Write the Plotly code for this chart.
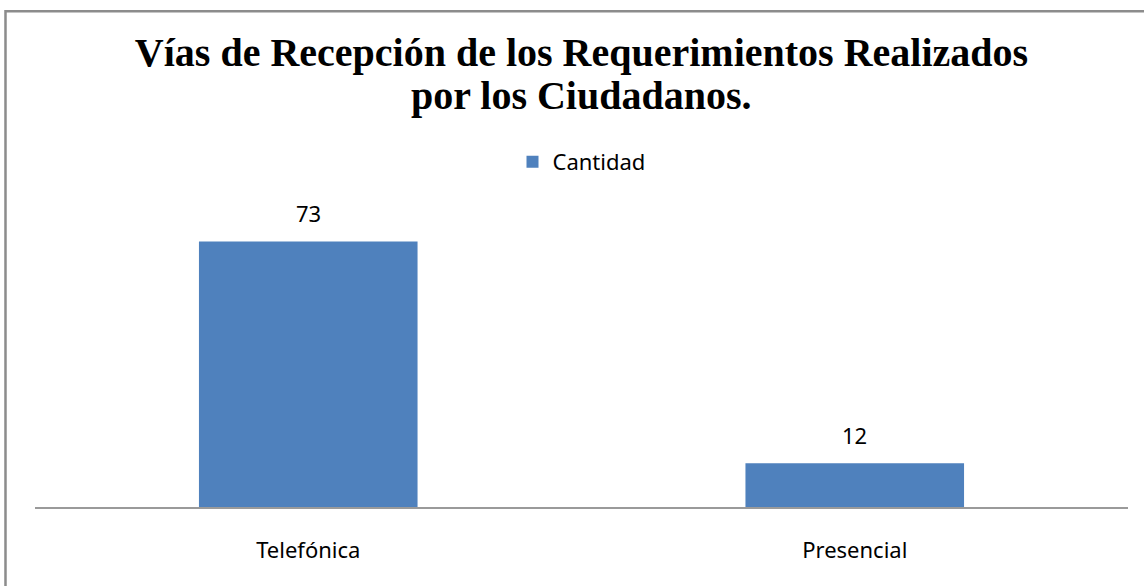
import plotly.graph_objects as go

categorias = ["Telefónica", "Presencial"]
cantidad = [73, 12]
serie = "Cantidad"
titulo_1 = "Vías de Recepción de los Requerimientos Realizados"
titulo_2 = "por los Ciudadanos."

AZUL = "#4f81bd"
GRIS = "#8c8c8c"
SANS = "Noto Sans, Open Sans, sans-serif"
SERIF = "Liberation Serif, serif"

fig = go.Figure()
fig.add_trace(go.Bar(
    name=serie,
    x=categorias,
    y=cantidad,
    marker=dict(color=AZUL, line=dict(width=0)),
    showlegend=True,
    hoverinfo="x+y",
))

# etiquetas de datos encima de cada barra
for cat, val in zip(categorias, cantidad):
    fig.add_annotation(
        x=cat, y=val, text=str(val), showarrow=False,
        yanchor="bottom", yshift=11,
        font=dict(family=SANS, size=22, color="#000000"),
    )

# segunda linea del titulo (interlineado mas corto que el de <br>)
fig.add_annotation(
    xref="paper", yref="paper", x=0.5, y=1.415,
    xanchor="center", yanchor="middle", showarrow=False,
    text=titulo_2,
    font=dict(family=SERIF, size=40, color="#000000", weight="bold"),
)

# borde del area del grafico (recortado a la derecha y abajo)
fig.add_shape(
    type="rect", xref="paper", yref="paper",
    x0=-0.027, x1=1.05, y0=-0.4, y1=1.704,
    line=dict(color=GRIS, width=2.5), fillcolor="rgba(0,0,0,0)", layer="below",
)

fig.update_layout(
    width=1144,
    height=586,
    paper_bgcolor="white",
    plot_bgcolor="white",
    margin=dict(l=35, r=16, t=216, b=79),
    bargap=0.6,
    title=dict(
        text=titulo_1,
        xref="paper", x=0.5, xanchor="center",
        y=1 - 52 / 586, yanchor="middle",
        font=dict(family=SERIF, size=40, color="#000000", weight="bold"),
    ),
    legend=dict(
        orientation="h",
        x=0.5, xanchor="center",
        y=1.186, yanchor="middle",
        font=dict(family=SANS, size=22, color="#000000"),
    ),
    xaxis=dict(
        showline=True, linecolor="#9a9a9a", linewidth=2,
        ticks="outside", ticklen=23, tickcolor="rgba(0,0,0,0)",
        tickfont=dict(family=SANS, size=22, color="#000000"),
        showgrid=False, zeroline=False,
    ),
    yaxis=dict(
        range=[0, 80], visible=False, showgrid=False, zeroline=False,
    ),
)

# sin margen del body para que la figura empiece en (0, 0)
fig.write_html(
    "out.html",
    config={"displayModeBar": False},
    post_script="document.body.style.margin='0';",
)
